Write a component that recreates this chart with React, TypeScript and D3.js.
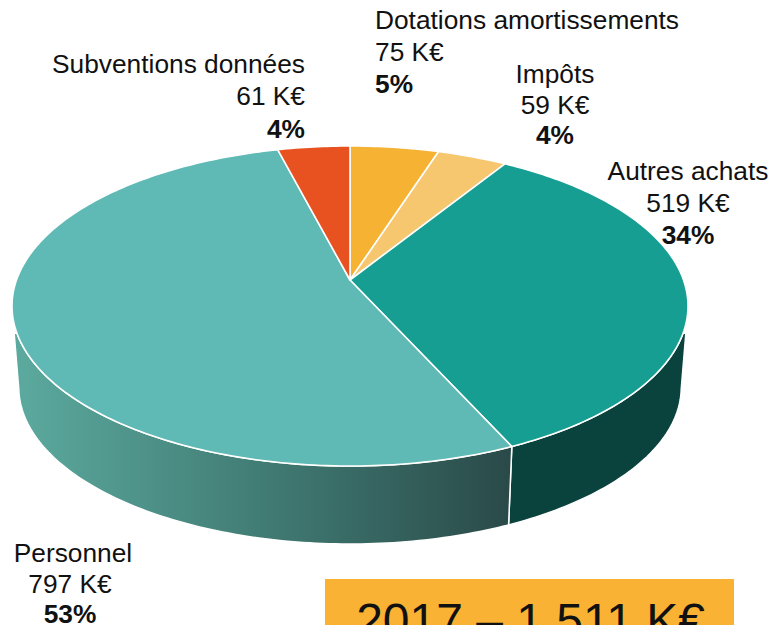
import React from "react";
import * as d3 from "d3";

// slices clockwise from 12 o'clock
const names = ["Dotations amortissements", "Impôts", "Autres achats", "Personnel", "Subventions données"];
const amounts = [75, 59, 519, 797, 61];
const percents = ["5%", "4%", "34%", "53%", "4%"];
const topColors = ["#f5b233", "#f6c76f", "#169e92", "#5fb9b4", "#e75220"];
const title = "2017 – 1 511 K€";

// label placement, same order as names
const labelX = [375, 555, 688, 70, 305];
const nameY = [29, 83, 180, 562, 73];
const amountY = [61, 114, 212, 593, 105];
const percentY = [93, 144, 244, 623, 138];
const labelAnchor = ["start", "middle", "middle", "middle", "end"];

const width = 771;
const height = 625;
const fontFamily = "'Liberation Sans', Arial, sans-serif";

// the pie is a tilted disc, so the circle goes through a perspective projection
const cx = 350;
const cy = 280;
const rx = 333.5;
const ry = 155.8;
const tilt = 0.1625;
const depthY = 81.7;
const depthScale = 0.98;

function project(angle: number, lower = false): [number, number] {
  const ux = Math.sin(angle);
  const uy = -Math.cos(angle);
  const w = 1 - tilt * uy;
  const s = lower ? depthScale : 1;
  return [cx + (s * rx * ux) / w, cy + (lower ? depthY : 0) + (s * ry * uy) / w];
}

const pieLayout = d3.pie<number>().sort(null).startAngle(0).endAngle(2 * Math.PI);
const arcs = pieLayout(amounts);
const line = d3.line();

function sample(a0: number, a1: number, lower = false) {
  const n = Math.max(2, Math.ceil(Math.abs(a1 - a0) * 60));
  return d3.range(n + 1).map((i) => project(a0 + ((a1 - a0) * i) / n, lower));
}

function topPath(a0: number, a1: number) {
  return line([[cx, cy], ...sample(a0, a1)]) + "Z";
}

function sidePath(a0: number, a1: number) {
  return line([...sample(a0, a1), ...sample(a1, a0, true)]) + "Z";
}

const sideStart = (100 * Math.PI) / 180;
const sideEnd = (260 * Math.PI) / 180;

export default function App() {
  const autres = arcs[2];
  const personnel = arcs[3];
  return (
    <svg
      width={width}
      height={height}
      style={{ position: "absolute", left: 0, top: 0, display: "block" }}
      fontFamily={fontFamily}
    >
      <defs>
        <linearGradient id="sideGrad" gradientUnits="userSpaceOnUse" x1={14} x2={510} y1={0} y2={0}>
          <stop offset="0" stopColor="#5caa9f" />
          <stop offset="0.5" stopColor="#417c74" />
          <stop offset="1" stopColor="#2a4a49" />
        </linearGradient>
        <clipPath id="sideClip">
          <rect x={0} y={334} width={width} height={height - 334} />
        </clipPath>
      </defs>

      <g clipPath="url(#sideClip)" stroke="#fff" strokeWidth={1.5}>
        <path d={sidePath(sideStart, autres.endAngle)} fill="#0a433d" />
        <path d={sidePath(personnel.startAngle, sideEnd)} fill="url(#sideGrad)" />
      </g>

      {arcs.map((a, i) => (
        <path
          key={names[i]}
          d={topPath(a.startAngle, a.endAngle)}
          fill={topColors[i]}
          stroke="#fff"
          strokeWidth={1.6}
          strokeLinejoin="round"
        />
      ))}

      {names.map((name, i) => (
        <g key={name} fontSize={26.3} fill="#111" textAnchor={labelAnchor[i] as any}>
          <text x={i === 3 ? labelX[i] + 3 : labelX[i]} y={nameY[i]}>
            {name}
          </text>
          <text x={labelX[i]} y={amountY[i]}>
            {amounts[i]} K€
          </text>
          <text x={labelX[i]} y={percentY[i]} fontWeight="bold">
            {percents[i]}
          </text>
        </g>
      ))}

      <rect x={325} y={579} width={409} height={height - 579} fill="#f9b233" />
      <text x={530.5} y={637} fontSize={48} textAnchor="middle" fill="#111">
        {title}
      </text>
    </svg>
  );
}
